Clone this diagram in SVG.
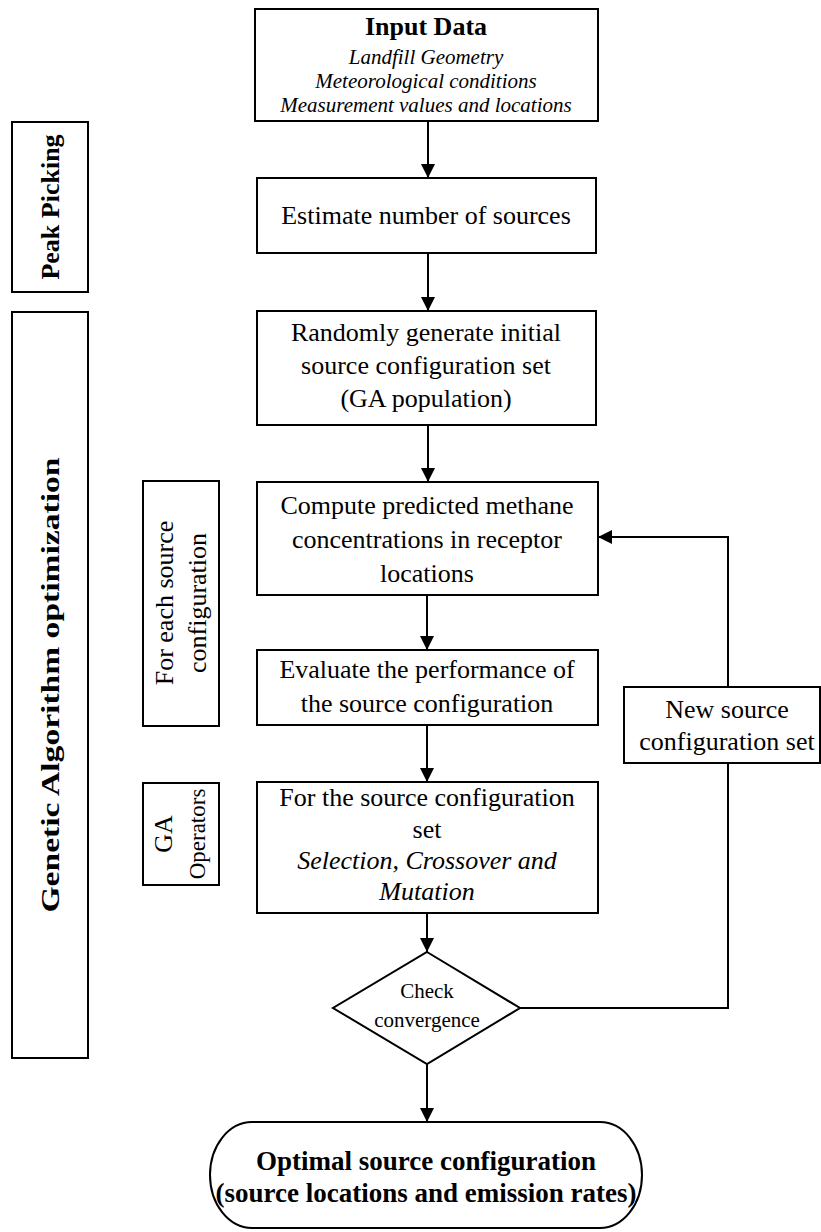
<svg xmlns="http://www.w3.org/2000/svg" width="821" height="1232" viewBox="0 0 821 1232">
<defs>
<style>
.box{fill:#fff;stroke:#000;stroke-width:2}
.ln{fill:none;stroke:#000;stroke-width:2}
text{font-family:"Liberation Serif","Times New Roman",serif;fill:#000;text-anchor:middle}
.t{font-size:26px}
.b{font-size:26px;font-weight:bold}
.bt{font-size:27px;font-weight:bold}
.i{font-size:21px;font-style:italic}
.i26{font-size:26px;font-style:italic}
.s{font-size:21px}
.op{font-size:23px}
</style>
<marker id="ah" viewBox="0 0 10 10" refX="10" refY="5" markerWidth="14" markerHeight="14" markerUnits="userSpaceOnUse" orient="auto">
<path d="M0,0 L10,5 L0,10 z" fill="#000"/>
</marker>
</defs>
<rect width="821" height="1232" fill="#fff"/>

<g id="connectors">
<line class="ln" x1="428" y1="121" x2="428" y2="178" marker-end="url(#ah)"/>
<line class="ln" x1="428" y1="253" x2="428" y2="311" marker-end="url(#ah)"/>
<line class="ln" x1="428" y1="425" x2="428" y2="482" marker-end="url(#ah)"/>
<line class="ln" x1="427" y1="595" x2="427" y2="650" marker-end="url(#ah)"/>
<line class="ln" x1="427" y1="725" x2="427" y2="782" marker-end="url(#ah)"/>
<line class="ln" x1="427" y1="913" x2="427" y2="952" marker-end="url(#ah)"/>
<line class="ln" x1="427" y1="1064" x2="427" y2="1122" marker-end="url(#ah)"/>
<polyline class="ln" points="520,1008 728,1008 728,763"/>
<polyline class="ln" points="728,687 728,537 598,537" marker-end="url(#ah)"/>
</g>

<g id="peak-picking">
<rect class="box" x="12" y="122" width="76" height="170"/>
<text class="b" transform="translate(59,207) rotate(-90)">Peak Picking</text>
</g>

<g id="ga-optimization">
<rect class="box" x="12" y="312" width="76" height="746"/>
<text class="b" transform="translate(59,685) rotate(-90)" textLength="455" lengthAdjust="spacingAndGlyphs">Genetic Algorithm optimization</text>
</g>

<g id="input-data">
<rect class="box" x="255" y="9" width="343" height="112"/>
<text class="b" x="426" y="35">Input Data</text>
<text class="i" x="426" y="64">Landfill Geometry</text>
<text class="i" x="426" y="88">Meteorological conditions</text>
<text class="i" x="426" y="112">Measurement values and locations</text>
</g>

<g id="estimate">
<rect class="box" x="257" y="178" width="339" height="75"/>
<text class="t" x="426" y="224">Estimate number of sources</text>
</g>

<g id="randomly">
<rect class="box" x="257" y="311" width="339" height="114"/>
<text class="t" x="426" y="341">Randomly generate initial</text>
<text class="t" x="426" y="374">source configuration set</text>
<text class="t" x="426" y="407">(GA population)</text>
</g>

<g id="for-each">
<rect class="box" x="143" y="481" width="76" height="245"/>
<text class="t" transform="translate(173,603) rotate(-90)">For each source</text>
<text class="t" transform="translate(206,603) rotate(-90)">configuration</text>
</g>

<g id="compute">
<rect class="box" x="257" y="482" width="341" height="113"/>
<text class="t" x="427" y="514">Compute predicted methane</text>
<text class="t" x="427" y="548">concentrations in receptor</text>
<text class="t" x="427" y="582">locations</text>
</g>

<g id="evaluate">
<rect class="box" x="257" y="650" width="341" height="75"/>
<text class="t" x="427" y="678">Evaluate the performance of</text>
<text class="t" x="427" y="712">the source configuration</text>
</g>

<g id="new-source">
<rect class="box" x="624" y="687" width="196" height="76"/>
<text class="t" x="727" y="718">New source</text>
<text class="t" x="727" y="750">configuration set</text>
</g>

<g id="ga-operators">
<rect class="box" x="143" y="783" width="76" height="102"/>
<text class="t" transform="translate(172,834) rotate(-90)">GA</text>
<text class="op" transform="translate(205,834) rotate(-90)">Operators</text>
</g>

<g id="ga-set">
<rect class="box" x="257" y="782" width="341" height="131"/>
<text class="t" x="427" y="806">For the source configuration</text>
<text class="t" x="427" y="838">set</text>
<text class="i26" x="427" y="869">Selection, Crossover and</text>
<text class="i26" x="427" y="900">Mutation</text>
</g>

<g id="check">
<polygon class="box" points="427,952 520,1008 427,1064 333,1008"/>
<text class="s" x="427" y="998">Check</text>
<text class="s" x="427" y="1027">convergence</text>
</g>

<g id="optimal">
<path class="box" d="M252,1122 H600 A42 53 0 0 1 600,1228 H252 A42 53 0 0 1 252,1122 Z"/>
<text class="bt" x="426" y="1170">Optimal source configuration</text>
<text class="bt" x="426" y="1202">(source locations and emission rates)</text>
</g>
</svg>
